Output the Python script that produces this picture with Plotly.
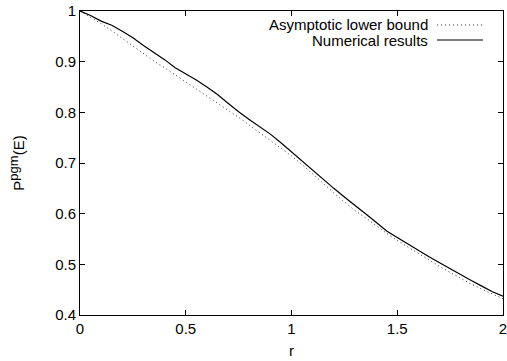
import plotly.graph_objects as go

r_values = [round(0.05 * i, 2) for i in range(41)]

bound_values = [1.000, 0.988, 0.975, 0.961, 0.946, 0.931, 0.915, 0.901, 0.888, 0.874,
                0.861, 0.847, 0.833, 0.819, 0.804, 0.790, 0.775, 0.760, 0.745, 0.730,
                0.714, 0.697, 0.678, 0.660, 0.641, 0.623, 0.606, 0.592, 0.576, 0.561,
                0.547, 0.534, 0.521, 0.508, 0.496, 0.484, 0.472, 0.461, 0.451, 0.441,
                0.432]

numerical_values = [1.000, 0.991, 0.980, 0.972, 0.960, 0.947, 0.932, 0.918, 0.904, 0.888,
                    0.876, 0.864, 0.850, 0.835, 0.818, 0.801, 0.786, 0.771, 0.757, 0.740,
                    0.722, 0.703, 0.685, 0.667, 0.650, 0.633, 0.617, 0.600, 0.583, 0.566,
                    0.553, 0.540, 0.527, 0.515, 0.503, 0.491, 0.479, 0.468, 0.457, 0.446,
                    0.437]

series_names = ["Asymptotic lower bound", "Numerical results"]

x_ticks = [0, 0.5, 1, 1.5, 2]
x_tick_labels = ["0", "0.5", "1", "1.5", "2"]
y_ticks = [0.4, 0.5, 0.6, 0.7, 0.8, 0.9, 1.0]
y_tick_labels = ["0.4", "0.5", "0.6", "0.7", "0.8", "0.9", "1"]

FONT = "Liberation Sans, Arial, Helvetica, sans-serif"

fig = go.Figure()
fig.add_trace(go.Scatter(x=r_values, y=bound_values, mode="lines", name=series_names[0],
                         line=dict(color="#333333", width=1, dash="1px,3px"), showlegend=False))
fig.add_trace(go.Scatter(x=r_values, y=numerical_values, mode="lines", name=series_names[1],
                         line=dict(color="black", width=1.2), showlegend=False))

L, R, T, B = 80, 4, 11, 46
W, H = 507, 361
pw = W - L - R
ph = H - T - B

def px(x):
    return (x - L) / pw

def py(y):
    return 1 - (y - T) / ph

# gnuplot-style legend: text right-aligned, sample to the right
legend_rows = [(series_names[0], 25, dict(color="#333333", width=1, dash="1px,3px")),
               (series_names[1], 40, dict(color="black", width=1.2))]
for name, yy, ln in legend_rows:
    fig.add_annotation(x=px(430), y=py(yy), xref="paper", yref="paper", text=name,
                       showarrow=False, xanchor="right", yanchor="middle",
                       font=dict(family=FONT, size=15, color="black"))
    fig.add_shape(type="line", xref="paper", yref="paper", x0=px(437), x1=px(483),
                  y0=py(yy), y1=py(yy), line=ln)

fig.update_layout(
    width=W, height=H,
    margin=dict(l=L, r=R, t=T, b=B, autoexpand=False),
    paper_bgcolor="white", plot_bgcolor="white",
    font=dict(family=FONT, size=15, color="black"),
    showlegend=False,
)
fig.update_xaxes(range=[0, 2], tickvals=x_ticks, ticktext=x_tick_labels,
                 ticks="inside", ticklen=5, tickcolor="black", mirror="ticks",
                 showline=True, linecolor="black", linewidth=1, showgrid=False, zeroline=False,
                 automargin=False, ticklabeloverflow="allow",
                 title=dict(text="r", standoff=9, font=dict(size=15)),
                 tickfont=dict(size=15))
fig.update_yaxes(range=[0.4, 1.0], tickvals=y_ticks, ticktext=y_tick_labels,
                 ticks="inside", ticklen=5, tickcolor="black", mirror="ticks",
                 showline=True, linecolor="black", linewidth=1, showgrid=False, zeroline=False,
                 automargin=False, ticklabeloverflow="allow",
                 title=dict(text="P<sup><span style='font-size:13px'>pgm</span></sup>(E)",
                            standoff=26, font=dict(size=15)),
                 tickfont=dict(size=15))

fig.write_html("out.html",
               config={"displayModeBar": False},
               post_script="document.body.style.margin='0';document.body.style.padding='0';"
                           "document.documentElement.style.overflow='hidden';")
